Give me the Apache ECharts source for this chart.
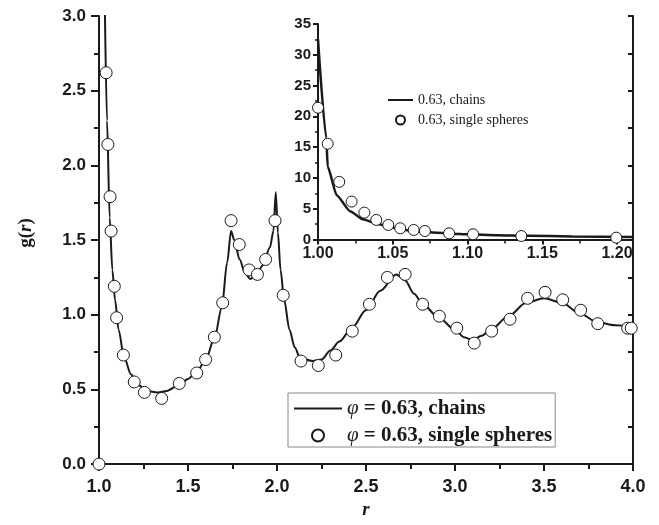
<!DOCTYPE html>
<html>
<head>
<meta charset="utf-8">
<script src="https://cdn.jsdelivr.net/npm/echarts@6/dist/echarts.min.js"></script>
<style>html,body{margin:0;padding:0;background:#fff}#c{width:659px;height:525px}</style>
</head>
<body>
<div id="c"></div>
<script>
// ---- main panel: chains (line) ----
var mainChainR = [1.033,1.045,1.06,1.075,1.09,1.11,1.14,1.18,1.22,1.27,1.33,1.38,1.45,1.5,1.55,1.6,1.65,1.69,1.72,1.742,1.76,1.79,1.82,1.85,1.88,1.92,1.96,1.98,1.993,2.005,2.02,2.04,2.07,2.1,2.13,2.2,2.25,2.3,2.35,2.42,2.5,2.58,2.67,2.72,2.77,2.82,2.9,3.0,3.05,3.1,3.15,3.2,3.3,3.4,3.5,3.6,3.7,3.8,3.9,4.0];
var mainChainG = [3.05,2.3,1.65,1.3,1.1,0.9,0.72,0.6,0.53,0.49,0.48,0.49,0.53,0.57,0.62,0.7,0.85,1.05,1.35,1.56,1.5,1.37,1.28,1.24,1.26,1.33,1.45,1.56,1.82,1.55,1.3,1.1,0.9,0.78,0.71,0.69,0.7,0.76,0.82,0.91,1.03,1.16,1.27,1.23,1.14,1.07,0.99,0.9,0.85,0.83,0.86,0.9,0.99,1.08,1.11,1.08,1.01,0.95,0.93,0.92];
// ---- main panel: single spheres (circles) ----
var mainSphereR = [1.0,1.04,1.05,1.062,1.068,1.086,1.099,1.137,1.198,1.255,1.352,1.451,1.549,1.599,1.648,1.695,1.742,1.788,1.843,1.89,1.936,1.989,2.035,2.135,2.232,2.33,2.423,2.519,2.62,2.72,2.818,2.912,3.01,3.108,3.206,3.309,3.408,3.506,3.605,3.706,3.802,3.97,3.99];
var mainSphereG = [0.0,2.62,2.14,1.79,1.56,1.19,0.98,0.73,0.55,0.48,0.44,0.54,0.61,0.70,0.85,1.08,1.63,1.47,1.30,1.27,1.37,1.63,1.13,0.69,0.66,0.73,0.89,1.07,1.25,1.27,1.07,0.99,0.91,0.81,0.89,0.97,1.11,1.15,1.10,1.03,0.94,0.91,0.91];
// ---- inset: chains ----
var insetChainR = [1.0,1.0055,1.0065,1.0125,1.0214,1.03,1.04,1.05,1.06,1.07,1.08,1.09,1.10,1.12,1.14,1.17,1.2107];
var insetChainV = [32.5,16.5,11.8,7.2,4.6,3.3,2.5,1.9,1.5,1.25,1.1,0.95,0.85,0.7,0.6,0.5,0.4];
// ---- inset: single spheres ----
var insetSphereR = [1.0,1.0065,1.0142,1.0225,1.031,1.039,1.047,1.055,1.064,1.0715,1.0877,1.1037,1.136,1.1995];
var insetSphereV = [21.4,15.55,9.36,6.16,4.37,3.18,2.36,1.82,1.55,1.38,1.0,0.85,0.57,0.3];
// ---- axis / legend text ----
var mainLegendNames = ['φ = 0.63, chains','φ = 0.63, single spheres'];
var insetLegendNames = ['0.63, chains','0.63, single spheres'];

function zip(a,b){return a.map(function(v,i){return [v,b[i]];});}

var ink = '#1a1a1a';
var sans = 'Liberation Sans, Arial, sans-serif';
var serif = 'Liberation Serif, Times New Roman, serif';
var noDot = {color:'rgba(0,0,0,0)', borderWidth:0, opacity:0};

var chart = echarts.init(document.getElementById('c'), null, {renderer:'canvas'});
chart.setOption({
  animation:false,
  backgroundColor:'#fff',
  grid:[
    {left:99, right:26, top:16, bottom:59.5},
    {left:318, right:26, top:24, bottom:285.5}
  ],
  xAxis:[
    {gridIndex:0, type:'value', min:1, max:4, interval:0.5,
     name:'r', nameLocation:'middle', nameGap:31,
     nameTextStyle:{fontFamily:serif, fontStyle:'italic', fontWeight:'bold', fontSize:19, color:ink},
     axisLine:{lineStyle:{color:ink, width:2}},
     axisTick:{inside:false, length:7, lineStyle:{color:ink, width:2}},
     minorTick:{show:true, splitNumber:2, length:5, lineStyle:{color:ink, width:2}},
     splitLine:{show:false},
     axisLabel:{margin:14, fontFamily:sans, fontWeight:'bold', fontSize:18, color:ink,
       formatter:function(v){return v.toFixed(1);}}},
    {gridIndex:0, type:'value', position:'top', min:1, max:4, interval:0.25,
     axisLine:{lineStyle:{color:ink, width:2}},
     axisTick:{inside:true, length:5, lineStyle:{color:ink, width:2}},
     splitLine:{show:false}, axisLabel:{show:false}},
    {gridIndex:1, type:'value', min:1, max:1.2107, interval:0.05,
     axisLine:{onZero:false, lineStyle:{color:ink, width:2}},
     axisTick:{inside:false, length:5, lineStyle:{color:ink, width:2}},
     minorTick:{show:true, splitNumber:2, length:4, lineStyle:{color:ink, width:1.5}},
     splitLine:{show:false},
     axisLabel:{margin:6, showMaxLabel:false, fontFamily:sans, fontWeight:'bold', fontSize:16, color:ink,
       formatter:function(v){return v.toFixed(2);}}}
  ],
  yAxis:[
    {gridIndex:0, type:'value', min:0, max:3, interval:0.5,
     name:'{b|g(}{i|r}{b|)}', nameLocation:'middle', nameGap:63, nameRotate:90,
     nameTextStyle:{padding:[0,0,0,14], rich:{
       b:{fontFamily:serif, fontWeight:'bold', fontSize:19, color:ink},
       i:{fontFamily:serif, fontWeight:'bold', fontStyle:'italic', fontSize:19, color:ink}}},
     axisLine:{lineStyle:{color:ink, width:2}},
     axisTick:{inside:false, length:8, lineStyle:{color:ink, width:2}},
     minorTick:{show:true, splitNumber:2, length:5, lineStyle:{color:ink, width:2}},
     splitLine:{show:false},
     axisLabel:{margin:13, fontFamily:sans, fontWeight:'bold', fontSize:17, color:ink,
       formatter:function(v){return v.toFixed(1);}}},
    {gridIndex:0, type:'value', position:'right', min:0, max:3, interval:0.25,
     axisLine:{lineStyle:{color:ink, width:2}},
     axisTick:{inside:true, length:5, lineStyle:{color:ink, width:2}},
     splitLine:{show:false}, axisLabel:{show:false}},
    {gridIndex:1, type:'value', min:0, max:35, interval:5,
     axisLine:{onZero:false, lineStyle:{color:ink, width:2}},
     axisTick:{inside:false, length:5, lineStyle:{color:ink, width:2}},
     minorTick:{show:true, splitNumber:2, length:3, lineStyle:{color:ink, width:1.5}},
     splitLine:{show:false},
     axisLabel:{margin:7, fontFamily:sans, fontWeight:'bold', fontSize:15, color:ink}}
  ],
  legend:[
    {id:'mainLegend',
     data:[{name:mainLegendNames[0], itemStyle:noDot}, {name:mainLegendNames[1]}],
     orient:'vertical', left:288, top:393, padding:[5,3,1,5], itemGap:6,
     itemWidth:48, itemHeight:12,
     backgroundColor:'#fff', borderColor:'#888', borderWidth:1, borderRadius:0,
     formatter:function(n){var p=n.split('φ');return '{p|φ}{b|'+p[1]+'}';},
     textStyle:{rich:{
       p:{fontFamily:serif, fontStyle:'italic', fontSize:21, color:ink},
       b:{fontFamily:serif, fontWeight:'bold', fontSize:21, color:ink}}}},
    {id:'insetLegend',
     data:[{name:insetLegendNames[0], itemStyle:noDot}, {name:insetLegendNames[1]}],
     orient:'vertical', left:387, top:93, padding:0, itemGap:6,
     itemWidth:25, itemHeight:9,
     textStyle:{fontFamily:serif, fontSize:14, color:ink}}
  ],
  series:[
    {name:mainLegendNames[0], type:'line', xAxisIndex:0, yAxisIndex:0,
     data:zip(mainChainR, mainChainG), showSymbol:false, symbol:'none',
     smooth:0.3, smoothMonotone:'x', lineStyle:{color:ink, width:2}, itemStyle:{color:ink}, z:2},
    {name:mainLegendNames[1], type:'scatter', xAxisIndex:0, yAxisIndex:0,
     data:zip(mainSphereR, mainSphereG), symbol:'circle', symbolSize:12,
     itemStyle:{color:'#fff', borderColor:ink, borderWidth:1, opacity:1}, z:3},
    {name:insetLegendNames[0], type:'line', xAxisIndex:2, yAxisIndex:2,
     data:zip(insetChainR, insetChainV), showSymbol:false, symbol:'none',
     smooth:0.2, smoothMonotone:'x', lineStyle:{color:ink, width:2.5}, itemStyle:{color:ink}, z:2},
    {name:insetLegendNames[1], type:'scatter', xAxisIndex:2, yAxisIndex:2,
     data:zip(insetSphereR, insetSphereV), symbol:'circle', symbolSize:11,
     itemStyle:{color:'#fff', borderColor:ink, borderWidth:1, opacity:1}, z:3}
  ]
});
</script>
</body>
</html>
